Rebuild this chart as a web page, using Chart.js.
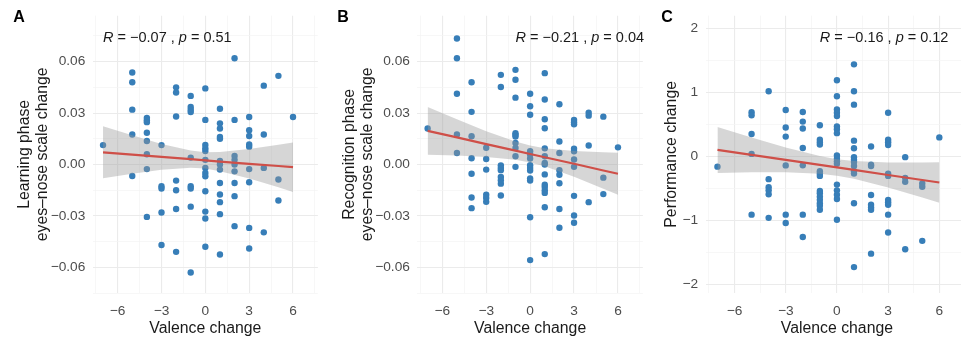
<!DOCTYPE html>
<html>
<head>
<meta charset="utf-8">
<script src="https://cdn.jsdelivr.net/npm/chart.js@4.4.1/dist/chart.umd.min.js"></script>
<style>
  html, body { margin: 0; padding: 0; background: #fff; }
  body { width: 961px; height: 343px; position: relative; overflow: hidden; }
  .panel { position: absolute; top: 0; width: 325px; height: 343px; }
</style>
</head>
<body>
<div class="panel" style="left:0"><canvas id="chartA"></canvas></div>
<div class="panel" style="left:325px"><canvas id="chartB"></canvas></div>
<div class="panel" style="left:650px"><canvas id="chartC"></canvas></div>
<script>
// tick values and labels
const xTicks = [-6, -3, 0, 3, 6];
const xTickLabels = ["−6", "−3", "0", "3", "6"];
const xMinor = [-7.5, -4.5, -1.5, 1.5, 4.5, 7.5];
const eyeTicks = [-0.06, -0.03, 0, 0.03, 0.06];
const eyeTickLabels = ["−0.06", "−0.03", "0.00", "0.03", "0.06"];
const eyeMinor = [-0.075, -0.045, -0.015, 0.015, 0.045, 0.075];
const perfTicks = [-2, -1, 0, 1, 2];
const perfTickLabels = ["−2", "−1", "0", "1", "2"];
const perfMinor = [-1.5, -0.5, 0.5, 1.5];

// panel A: learning phase
const aX = [-7,
  -5, -5, -5, -5, -5,
  -4, -4, -4, -4, -4, -4, -4, -4,
  -3, -3, -3, -3, -3,
  -2, -2, -2, -2, -2, -2, -2,
  -1, -1, -1, -1, -1, -1, -1, -1, -1,
  0, 0, 0, 0, 0, 0, 0, 0, 0, 0, 0, 0, 0,
  1, 1, 1, 1, 1, 1, 1, 1, 1, 1, 1, 1, 1,
  2, 2, 2, 2, 2, 2, 2, 2, 2,
  3, 3, 3, 3, 3, 3, 3, 3, 3,
  4, 4, 4, 4,
  5, 5, 5,
  6];
const aY = [0.0113,
  0.0537, 0.048, 0.032, 0.0175, -0.0067,
  0.0272, 0.0258, 0.0247, 0.0185, 0.0137, 0.006, -0.0027, -0.0306,
  0.0113, -0.0127, -0.014, -0.028, -0.047,
  0.045, 0.042, 0.028, -0.0094, -0.015, -0.026, -0.051,
  0.040, 0.0335, 0.032, 0.0306, 0.004, -0.0127, -0.014, -0.0246, -0.063,
  0.0444, 0.026, 0.0114, 0.0094, 0.0079, 0.0027, -0.002, -0.005, -0.0069, -0.0156, -0.0275, -0.0315, -0.048,
  0.0325, 0.024, 0.021, 0.016, 0.015, 0.002, 0, -0.003, -0.0108, -0.0175, -0.022, -0.029, -0.0525,
  0.062, 0.026, 0.005, 0.0027, 0, -0.004, -0.0108, -0.0185, -0.036,
  0.0277, 0.020, 0.0166, 0.0117, 0.0104, -0.0027, -0.0104, -0.037, -0.049,
  0.046, 0.0175, -0.002, -0.0396,
  0.0517, -0.0088, -0.021,
  0.0277];

// panel B: recognition phase
const bX = [-7,
  -5, -5, -5, -5, -5,
  -4, -4, -4, -4, -4, -4, -4,
  -3, -3, -3, -3, -3, -3,
  -2, -2, -2, -2, -2, -2, -2, -2, -2,
  -1, -1, -1, -1, -1, -1, -1, -1, -1, -1,
  0, 0, 0, 0, 0, 0, 0, 0, 0, 0, 0, 0, 0,
  1, 1, 1, 1, 1, 1, 1, 1, 1, 1, 1, 1, 1, 1, 1,
  2, 2, 2, 2, 2, 2, 2, 2,
  3, 3, 3, 3, 3, 3, 3, 3, 3, 3,
  4, 4, 4, 4,
  5, 5, 5,
  6];
const bY = [0.021,
  0.0735, 0.062, 0.0413, 0.0175, 0.0067,
  0.048, 0.0307, 0.0165, 0.0036, -0.0054, -0.0193, -0.0255,
  0.0098, 0.0032, -0.003, -0.0177, -0.0195, -0.0218,
  0.0523, 0.0452, -0.0005, -0.002, -0.0033, -0.0073, -0.0092, -0.0112, -0.0181,
  0.0552, 0.0494, 0.039, 0.0182, 0.0173, 0.0163, 0.0125, 0.0096, 0.0048, -0.0014,
  0.0413, 0.034, 0.029, 0.0077, 0.0058, 0.0035, -0.0004, -0.002, -0.0035, -0.0081, -0.0094, -0.0308, -0.0558,
  0.0533, 0.0379, 0.0264, 0.0211, 0.0094, 0.0048, 0.0009, 0, -0.0058, -0.0118, -0.0131, -0.015, -0.0166, -0.025, -0.0523,
  0.0351, 0.0134, 0.0067, -0.0033, -0.006, -0.011, -0.026, -0.0369,
  0.026, 0.0246, 0.0234, 0.0092, 0.0077, 0.0029, -0.0014, -0.0183, -0.0298, -0.034,
  0.0302, 0.0285, 0.0111, -0.022,
  0.0279, -0.0077, -0.0173,
  0.010];

// panel C: performance
const cX = [-7,
  -5, -5, -5, -5, -5,
  -4, -4, -4, -4, -4, -4,
  -3, -3, -3, -3, -3, -3,
  -2, -2, -2, -2, -2, -2, -2,
  -1, -1, -1, -1, -1, -1, -1, -1, -1, -1, -1, -1, -1, -1,
  0, 0, 0, 0, 0, 0, 0, 0, 0, 0, 0, 0, 0, 0, 0, 0, 0,
  1, 1, 1, 1, 1, 1, 1, 1, 1, 1, 1, 1, 1,
  2, 2, 2, 2, 2, 2, 2, 2,
  3, 3, 3, 3, 3, 3, 3, 3, 3, 3, 3,
  4, 4, 4, 4,
  5, 5, 5,
  6];
const cY = [-0.16,
  0.69, 0.645, 0.35, 0.04, -0.91,
  1.02, -0.355, -0.48, -0.53, -0.59, -0.96,
  0.725, 0.452, 0.31, -0.14, -0.91, -1.04,
  0.694, 0.545, 0.437, 0.133, -0.139, -0.91, -1.26,
  0.488, 0.262, 0.221, 0.185, -0.231, -0.268, -0.304, -0.54, -0.577, -0.628, -0.679, -0.731, -0.772, -0.833,
  1.19, 0.94, 0.735, 0.684, 0.633, 0.468, 0.426, 0.364, 0.015, -0.037, -0.077, -0.114, -0.44, -0.53, -0.6, -0.665, -0.99,
  1.44, 1.02, 0.81, 0.247, 0.128, -0.011, -0.052, -0.088, -0.15, -0.231, -0.268, -0.731, -1.73,
  0.155, -0.13, -0.15, -0.602, -0.756, -0.798, -0.833, -1.52,
  0.684, 0.262, 0.221, 0.179, -0.268, -0.304, -0.679, -0.716, -0.756, -0.91, -1.19,
  -0.011, -0.335, -0.397, -1.45,
  -0.423, -0.474, -1.32,
  0.298];

// regression line and confidence band
const fitX = [-7, -5, -3, -1, 0, 1, 3, 5, 6];
const aFit = [0.0071, 0.0058, 0.0044, 0.0031, 0.0024, 0.0017, 0.0004, -0.0009, -0.0016];
const aHi = [0.0223, 0.0170, 0.0119, 0.0081, 0.0072, 0.0073, 0.0090, 0.0115, 0.0128];
const aLo = [-0.0081, -0.0054, -0.0031, -0.0019, -0.0024, -0.0039, -0.0082, -0.0133, -0.0160];
const bFit = [0.0196, 0.0158, 0.0119, 0.0081, 0.0061, 0.0042, 0.0004, -0.0035, -0.0054];
const bHi = [0.0336, 0.0264, 0.0194, 0.0134, 0.0111, 0.0095, 0.0079, 0.0071, 0.0069];
const bLo = [0.0056, 0.0052, 0.0044, 0.0028, 0.0011, -0.0011, -0.0071, -0.0141, -0.0177];
const cFit = [0.102, 0.024, -0.055, -0.133, -0.172, -0.211, -0.29, -0.368, -0.407];
const cHi = [0.462, 0.297, 0.139, 0.006, -0.042, -0.072, -0.096, -0.095, -0.091];
const cLo = [-0.258, -0.249, -0.249, -0.272, -0.302, -0.35, -0.484, -0.641, -0.723];

const statR = ["−0.07", "−0.21", "−0.16"];
const statP = ["0.51", "0.04", "0.12"];

const FONT = '"Liberation Sans", Arial, sans-serif';
const blue = "#377eb8";
const red = "#cf4f48";
Chart.defaults.font.family = FONT;

function labelFor(v, majors, labels) {
  const i = majors.findIndex(m => Math.abs(m - v) < 1e-9);
  return i < 0 ? "" : labels[i];
}
function isMajor(v, majors) {
  return majors.some(m => Math.abs(m - v) < 1e-9);
}

const panelText = {
  id: "panelText",
  afterDraw(chart, args, o) {
    const ctx = chart.ctx;
    ctx.save();
    ctx.fillStyle = "#000";
    ctx.textAlign = "center";
    ctx.textBaseline = "middle";
    ctx.font = "bold 16px " + FONT;
    ctx.fillText(o.letter, o.letterX, 18);

    ctx.textAlign = "left";
    ctx.fillStyle = "#1a1a1a";
    let x = chart.scales.x.getPixelForValue(o.statX);
    const y = chart.scales.y.getPixelForValue(o.statY);
    const parts = [["R", true], [" = ", false], [o.r, false], [" , ", false], ["p", true], [" = ", false], [o.p, false]];
    for (const [t, it] of parts) {
      ctx.font = (it ? "italic " : "") + "14.5px " + FONT;
      ctx.fillText(t, x, y);
      x += ctx.measureText(t).width;
    }
    ctx.restore();
  }
};

function makePanel(o) {
  const pts = o.xs.map((x, i) => ({ x, y: o.ys[i] }));
  const curve = arr => fitX.map((x, i) => ({ x, y: arr[i] }));
  return new Chart(document.getElementById(o.id), {
    type: "scatter",
    data: {
      datasets: [
        { type: "line", data: curve(o.fit), borderColor: red, borderWidth: 2.2, pointRadius: 0, fill: false, order: 0 },
        { type: "line", data: curve(o.hi), borderWidth: 0, borderColor: "rgba(0,0,0,0)", pointRadius: 0, fill: false, order: 2 },
        { type: "line", data: curve(o.lo), borderWidth: 0, borderColor: "rgba(0,0,0,0)", pointRadius: 0, fill: "-1", backgroundColor: "rgba(153,153,153,0.4)", order: 1 },
        { data: pts, backgroundColor: blue, borderWidth: 0, pointRadius: 3.2, order: 3 }
      ]
    },
    options: {
      responsive: true,
      maintainAspectRatio: false,
      animation: false,
      events: [],
      layout: { padding: { top: 12, right: o.padRight, bottom: 0, left: 0 } },
      plugins: {
        legend: { display: false },
        tooltip: { enabled: false },
        panelText: { letter: o.letter, letterX: o.letterX, r: o.r, p: o.p, statX: o.statX, statY: o.statY }
      },
      scales: {
        x: {
          type: "linear",
          min: -7.7,
          max: 7.7,
          afterBuildTicks: s => { s.ticks = [...xTicks, ...xMinor].sort((a, b) => a - b).map(v => ({ value: v })); },
          afterFit: s => { s.height = 50; },
          border: { display: false },
          grid: {
            drawTicks: false,
            color: c => isMajor(c.tick.value, xTicks) ? "#ebebeb" : "#f3f3f3",
            lineWidth: c => isMajor(c.tick.value, xTicks) ? 1.1 : 0.7
          },
          ticks: {
            autoSkip: false, maxRotation: 0, padding: 10, color: "#4d4d4d",
            font: { size: 13.7 },
            callback: v => labelFor(v, xTicks, xTickLabels)
          },
          title: {
            display: true, text: "Valence change", color: "#1a1a1a",
            font: { size: 15.8 }, padding: { top: 0, bottom: 5 }
          }
        },
        y: {
          type: "linear",
          min: o.yMin,
          max: o.yMax,
          afterBuildTicks: s => { s.ticks = [...o.yTicks, ...o.yMinor].sort((a, b) => a - b).map(v => ({ value: v })); },
          afterFit: s => { s.width = o.axisWidth; },
          border: { display: false },
          grid: {
            drawTicks: false,
            color: c => isMajor(c.tick.value, o.yTicks) ? "#ebebeb" : "#f3f3f3",
            lineWidth: c => isMajor(c.tick.value, o.yTicks) ? 1.1 : 0.7
          },
          ticks: {
            autoSkip: false, padding: 7.5, color: "#4d4d4d",
            font: { size: 13.7 },
            callback: v => labelFor(v, o.yTicks, o.yLabels)
          },
          title: {
            display: true, text: o.yTitle, color: "#1a1a1a",
            font: { size: 15.8, lineHeight: 1.15 }, padding: { top: o.titlePad, bottom: 0 }
          }
        }
      }
    },
    plugins: [panelText]
  });
}

makePanel({
  id: "chartA", xs: aX, ys: aY, fit: aFit, hi: aHi, lo: aLo,
  yMin: -0.0750, yMax: 0.0868, yTicks: eyeTicks, yLabels: eyeTickLabels, yMinor: eyeMinor,
  yTitle: ["Learning phase", "eyes–nose scale change"], axisWidth: 92.8, titlePad: 15.4, padRight: 4,
  letter: "A", letterX: 19, r: statR[0], p: statP[0], statX: -7, statY: 0.0736
});
makePanel({
  id: "chartB", xs: bX, ys: bY, fit: bFit, hi: bHi, lo: bLo,
  yMin: -0.0750, yMax: 0.0868, yTicks: eyeTicks, yLabels: eyeTickLabels, yMinor: eyeMinor,
  yTitle: ["Recognition phase", "eyes–nose scale change"], axisWidth: 92.4, titlePad: 15.4, padRight: 5.4,
  letter: "B", letterX: 18, r: statR[1], p: statP[1], statX: -1, statY: 0.0736
});
makePanel({
  id: "chartC", xs: cX, ys: cY, fit: cFit, hi: cHi, lo: cLo,
  yMin: -2.135, yMax: 2.20, yTicks: perfTicks, yLabels: perfTickLabels, yMinor: perfMinor,
  yTitle: "Performance change", axisWidth: 55.5, titlePad: 12.4, padRight: 5,
  letter: "C", letterX: 17, r: statR[2], p: statP[2], statX: -1, statY: 1.846
});
</script>
</body>
</html>
